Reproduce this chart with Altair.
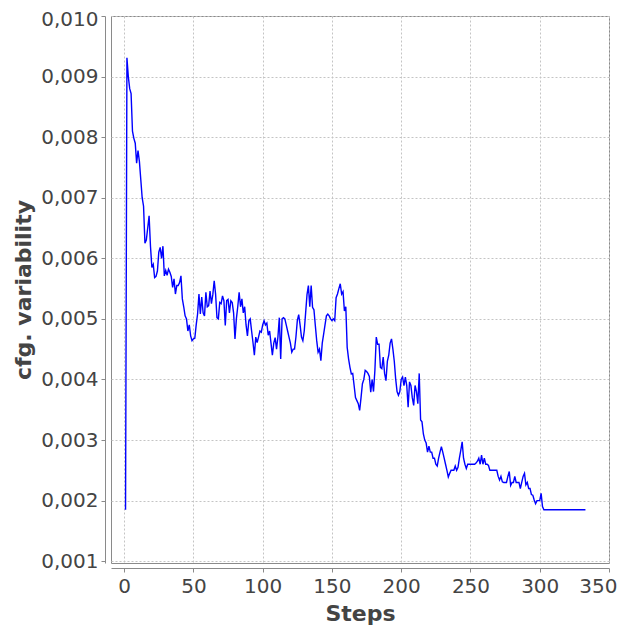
import altair as alt
import pandas as pd

# Step indices and the matching cfg. variability values
steps = list(range(1, 304)) + [333]
values = [
    0.00185, 0.00931, 0.0090, 0.0088, 0.00872, 0.0081, 0.00798, 0.0079, 0.00757, 0.00778,
    0.0076, 0.0073, 0.0070, 0.00686, 0.00625, 0.0063, 0.0065, 0.0067, 0.0062, 0.00585,
    0.0059, 0.00568, 0.0057, 0.00579, 0.0061, 0.00618, 0.0060, 0.0062, 0.00571, 0.0058,
    0.00572, 0.00582, 0.00577, 0.0057, 0.00552, 0.00566, 0.00541, 0.00555, 0.00555, 0.0056,
    0.00571, 0.00533, 0.0052, 0.00505, 0.0050, 0.0048, 0.0049, 0.00472, 0.00464, 0.00467,
    0.00468, 0.0049, 0.00508, 0.00541, 0.00508, 0.00536, 0.0051, 0.00505, 0.00544, 0.0052,
    0.00522, 0.00546, 0.00525, 0.0054, 0.00563, 0.00541, 0.00502, 0.0050, 0.00527, 0.00525,
    0.00538, 0.0053, 0.00489, 0.0053, 0.00532, 0.0051, 0.0053, 0.00527, 0.0051, 0.00467,
    0.0050, 0.0052, 0.00544, 0.0052, 0.00533, 0.0051, 0.0052, 0.0049, 0.00472, 0.00497,
    0.0050, 0.0048, 0.00461, 0.0044, 0.0047, 0.00461, 0.0047, 0.0048, 0.00478, 0.0049,
    0.00497, 0.0049, 0.00493, 0.00473, 0.0048, 0.0046, 0.0044, 0.0046, 0.00469, 0.0045,
    0.0047, 0.00502, 0.00434, 0.0050, 0.00502, 0.0050, 0.0049, 0.0048, 0.0047, 0.0046,
    0.00445, 0.0045, 0.0045, 0.0047, 0.00497, 0.00507, 0.0049, 0.0047, 0.00464, 0.0048,
    0.0051, 0.0054, 0.00555, 0.0052, 0.00555, 0.00519, 0.00515, 0.00489, 0.00464, 0.00445,
    0.0045, 0.00431, 0.0046, 0.00475, 0.0049, 0.00505, 0.00508, 0.00505, 0.0050, 0.00497,
    0.0050, 0.00497, 0.00535, 0.00541, 0.0055, 0.00558, 0.00541, 0.00545, 0.00513, 0.0052,
    0.00453, 0.00434, 0.0042, 0.00409, 0.0041, 0.0039, 0.0037, 0.00365, 0.0036, 0.00349,
    0.0037, 0.00393, 0.0040, 0.00415, 0.00413, 0.0041, 0.00405, 0.00379, 0.0040, 0.0038,
    0.00415, 0.0047, 0.00458, 0.00458, 0.0042, 0.00418, 0.00437, 0.0041, 0.00398, 0.0043,
    0.0044, 0.0046, 0.00467, 0.0045, 0.0043, 0.00401, 0.0038, 0.00374, 0.0038, 0.0040,
    0.00404, 0.0039, 0.00404, 0.0039, 0.00354, 0.00396, 0.0039, 0.0037, 0.00357, 0.0039,
    0.0038, 0.0036, 0.0041, 0.00333, 0.0033, 0.0031, 0.0030, 0.00295, 0.0028, 0.0029,
    0.0028, 0.0028, 0.0027, 0.0027, 0.0026, 0.00257, 0.0027, 0.0028, 0.00289, 0.0028,
    0.0027, 0.0026, 0.0025, 0.00239, 0.00245, 0.0025, 0.0025, 0.0025, 0.00257, 0.0025,
    0.00255, 0.0027, 0.00283, 0.00297, 0.0027, 0.0026, 0.00253, 0.0026, 0.0026, 0.0026,
    0.0026, 0.0026, 0.0026, 0.00262, 0.00265, 0.0027, 0.0026, 0.00275, 0.0026, 0.0027,
    0.0026, 0.0026, 0.00258, 0.0025, 0.0025, 0.0025, 0.0025, 0.0025, 0.0025, 0.0024,
    0.00234, 0.0024, 0.00231, 0.0023, 0.0023, 0.0023, 0.0024, 0.00248, 0.00225, 0.0023,
    0.0023, 0.0024, 0.0023, 0.0023, 0.0023, 0.0022, 0.0023, 0.0024, 0.00245, 0.00226,
    0.0023, 0.0022, 0.0022, 0.0021, 0.00209, 0.00201, 0.00195, 0.0020, 0.0020, 0.0020,
    0.00212, 0.0019, 0.00185, 0.00185,
]

x_ticks = [0, 50, 100, 150, 200, 250, 300, 350]
y_ticks = [0.001, 0.002, 0.003, 0.004, 0.005, 0.006, 0.007, 0.008, 0.009, 0.010]

df = pd.DataFrame({"step": steps, "value": values})

chart = (
    alt.Chart(df)
    .mark_line(color="#0000ff", strokeWidth=1.4)
    .encode(
        x=alt.X(
            "step:Q",
            title="Steps",
            scale=alt.Scale(domain=[-9.5, 350], nice=False, zero=False),
            axis=alt.Axis(values=x_ticks, format="d", offset=5, tickSize=4,
                          labelFlush=True, labelFlushOffset=8,
                          labelPadding=4, titlePadding=7),
        ),
        y=alt.Y(
            "value:Q",
            title="cfg. variability",
            scale=alt.Scale(domain=[0.00097, 0.010], nice=False, zero=False),
            axis=alt.Axis(values=y_ticks, format=".3f",
                          labelExpr="replace(datum.label, '.', ',')",
                          labelFlush=True, labelFlushOffset=7,
                          offset=6, tickSize=4, labelPadding=3, titlePadding=5),
        ),
    )
    .properties(
        width=498,
        height=547,
        autosize=alt.AutoSizeParams(type="none"),
        padding={"left": 103, "top": 8, "right": 9, "bottom": 63},
    )
    .configure_view(stroke="#8a8a8a", strokeWidth=1, fill="white")
    .configure_axis(
        grid=True,
        gridColor="#c4c4c4",
        gridDash=[2, 2],
        gridWidth=1,
        domainColor="#8a8a8a",
        tickColor="#8a8a8a",
        labelColor="#444444",
        labelFont="DejaVu Sans",
        labelFontSize=20,
        titleFont="DejaVu Sans",
        titleFontSize=22,
        titleFontWeight="bold",
        titleColor="#444444",
    )
)

chart.save("out.html", embed_options={"renderer": "svg", "actions": False})
